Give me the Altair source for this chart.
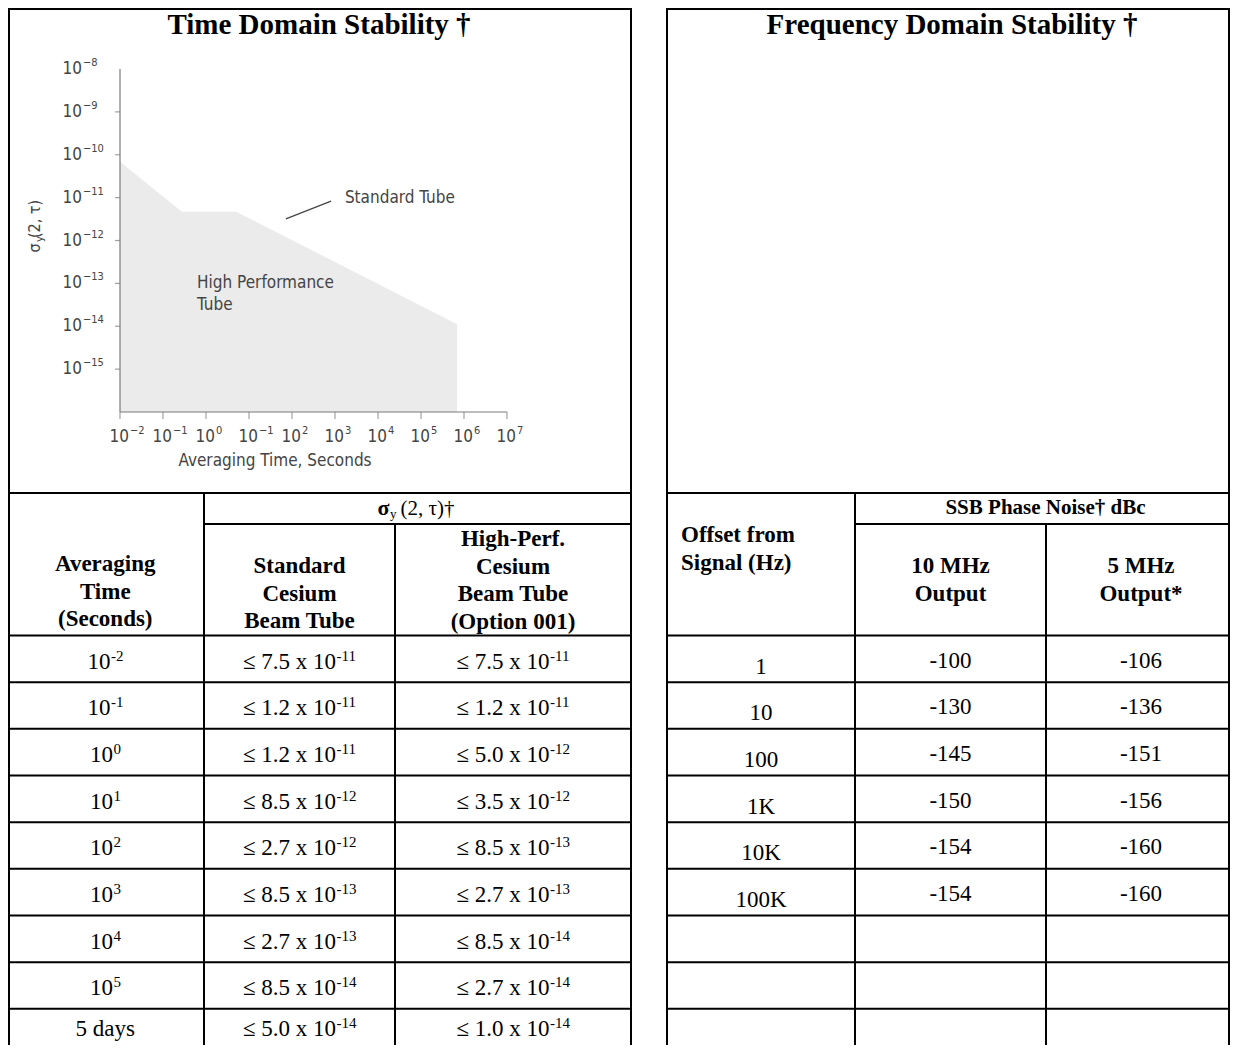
import altair as alt
import pandas as pd

# ------------------------------------------------------------------ values
# time-domain plot
curve_tau = [0.01, 0.275, 5.0, 6.9e5]
curve_sigma = [6.9e-11, 4.7e-12, 4.7e-12, 1.12e-14]
curve_floor = 1e-16
x_ticks = [1e-2, 1e-1, 1e0, 1e1, 1e2, 1e3, 1e4, 1e5, 1e6, 1e7]
x_tick_exp = ["−2", "−1", "0", "−1", "2", "3", "4", "5", "6", "7"]
y_ticks = [1e-8, 1e-9, 1e-10, 1e-11, 1e-12, 1e-13, 1e-14, 1e-15]
y_tick_exp = ["−8", "−9", "−10", "−11", "−12", "−13", "−14", "−15"]
ann_std_tau, ann_std_sigma = 1700, 1.0e-11
leader_tau, leader_sigma = [72, 810], [3.2e-12, 8.3e-12]
ann_hp_tau, ann_hp_sigma = [0.62, 0.62], [1.0e-13, 3.2e-14]
ann_hp_text = ["High Performance", "Tube"]

# time-domain table
avg_time_base = ["10"] * 8 + ["5 days"]
avg_time_exp = ["-2", "-1", "0", "1", "2", "3", "4", "5", ""]
std_mant = ["7.5", "1.2", "1.2", "8.5", "2.7", "8.5", "2.7", "8.5", "5.0"]
std_exp = ["-11", "-11", "-11", "-12", "-12", "-13", "-13", "-14", "-14"]
hp_mant = ["7.5", "1.2", "5.0", "3.5", "8.5", "2.7", "8.5", "2.7", "1.0"]
hp_exp = ["-11", "-11", "-12", "-12", "-13", "-13", "-14", "-14", "-14"]

# frequency-domain table
offset_hz = ["1", "10", "100", "1K", "10K", "100K"]
pn_10mhz = ["-100", "-130", "-145", "-150", "-154", "-154"]
pn_5mhz = ["-106", "-136", "-151", "-156", "-160", "-160"]

titles = ["Time Domain Stability †", "Frequency Domain Stability †"]
hdr_avg = ["Averaging", "Time", "(Seconds)"]
hdr_std = ["Standard", "Cesium", "Beam Tube"]
hdr_hp = ["High-Perf.", "Cesium", "Beam Tube", "(Option 001)"]
hdr_offset = ["Offset from", "Signal (Hz)"]
hdr_10 = ["10 MHz", "Output"]
hdr_5 = ["5 MHz", "Output*"]
hdr_ssb = "SSB Phase Noise† dBc"

# ------------------------------------------------------------------ layout
W, H = 1222, 1037
ORIG = 8
VIS_MIN, VIS_MAX = 9, 1229
TEXT_MAX_BASE = 1039.5          # lowest baseline that still fits in the view
TOP, SEP, SUB, HEAD, ROW_H, BOTTOM = 6, 493, 524, 635.5, 46.67, 1062
LC = [6.5, 204, 395, 631]
RC = [667, 855, 1046, 1236]
N_ROWS = 9

SERIF = "Liberation Serif, Times New Roman, Times, serif"
SANS = "Liberation Sans Narrow, Arial Narrow, DejaVu Sans Condensed, sans-serif"
GREY_TXT = "#444444"
AXIS_C = "#7a7a7a"

PXX = alt.Scale(domain=[ORIG, ORIG + W], range=[0, W], nice=False, zero=False)
PXY = alt.Scale(domain=[ORIG, ORIG + H], range=[0, H], nice=False, zero=False)

# log scales of the inset plot: 1 decade = 43 px (x), 42.875 px (y)
X_DEC, X_REF = 43.0, 120.0      # 1e-2 at x=120
Y_DEC, Y_REF = 42.875, 69.0     # 1e-8 at y=69
xlo = -2 - (X_REF - ORIG) / X_DEC
xhi = -2 + (ORIG + W - X_REF) / X_DEC
yhi = -8 + (Y_REF - ORIG) / Y_DEC
ylo = -8 - (ORIG + H - Y_REF) / Y_DEC
LOGX = alt.Scale(type="log", domain=[10 ** xlo, 10 ** xhi], range=[0, W], nice=False)
LOGY = alt.Scale(type="log", domain=[10 ** ylo, 10 ** yhi], range=[H, 0], nice=False)

TW = {"≤": 0.549, " ": 0.25, ".": 0.25, "x": 0.5, "-": 0.333}


def text_w(s, size):
    return sum(TW.get(c, 0.5) for c in s) * size


def px(chart, x2=False, y2=False):
    enc = dict(x=alt.X("x:Q", scale=PXX, axis=None), y=alt.Y("y:Q", scale=PXY, axis=None))
    if x2:
        enc["x2"] = alt.X2("x2:Q")
    if y2:
        enc["y2"] = alt.Y2("y2:Q")
    return chart.encode(**enc)


def lg(chart, x2=False, y2=False):
    enc = dict(x=alt.X("tau:Q", scale=LOGX, axis=None), y=alt.Y("sigma:Q", scale=LOGY, axis=None))
    if x2:
        enc["x2"] = alt.X2("tau2:Q")
    if y2:
        enc["y2"] = alt.Y2("sigma2:Q")
    return chart.encode(**enc)


layers = []

# ------------------------------------------------------------------ plot
curve = pd.DataFrame({"tau": curve_tau, "sigma": curve_sigma,
                      "sigma2": [curve_floor] * len(curve_tau)})
layers.append(lg(alt.Chart(curve).mark_area(color="#ebebeb", opacity=1), y2=True))

yaxis = pd.DataFrame({"tau": [x_ticks[0]], "sigma": [y_ticks[0]], "sigma2": [curve_floor]})
layers.append(lg(alt.Chart(yaxis).mark_rule(color=AXIS_C, strokeWidth=1.2), y2=True))
xaxis = pd.DataFrame({"tau": [x_ticks[0]], "tau2": [x_ticks[-1]], "sigma": [curve_floor]})
layers.append(lg(alt.Chart(xaxis).mark_rule(color=AXIS_C, strokeWidth=1.2), x2=True))

yt = pd.DataFrame({"tau": [x_ticks[0]] * (len(y_ticks) - 1), "sigma": y_ticks[1:]})
layers.append(lg(alt.Chart(yt).mark_tick(orient="horizontal", size=5, thickness=1.2,
                                          color=AXIS_C, xOffset=-2.5)))
xt = pd.DataFrame({"tau": x_ticks, "sigma": [curve_floor] * len(x_ticks)})
layers.append(lg(alt.Chart(xt).mark_tick(orient="vertical", size=7, thickness=1.2,
                                          color=AXIS_C, yOffset=3.5)))

ylab = pd.DataFrame({"tau": [x_ticks[0]] * len(y_ticks), "sigma": y_ticks,
                     "b": ["10"] * len(y_ticks), "e": y_tick_exp})
layers.append(lg(alt.Chart(ylab).mark_text(font=SANS, fontSize=17, color=GREY_TXT, align="right",
                                            baseline="middle", dx=-38)).encode(text="b:N"))
layers.append(lg(alt.Chart(ylab).mark_text(font=SANS, fontSize=11, color=GREY_TXT, align="left",
                                            baseline="middle", dx=-37, dy=-6)).encode(text="e:N"))
xlab = pd.DataFrame({"tau": x_ticks, "sigma": [curve_floor] * len(x_ticks),
                     "b": ["10"] * len(x_ticks), "e": x_tick_exp})
layers.append(lg(alt.Chart(xlab).mark_text(font=SANS, fontSize=17, color=GREY_TXT, align="right",
                                            baseline="middle", dx=9, dy=25)).encode(text="b:N"))
layers.append(lg(alt.Chart(xlab).mark_text(font=SANS, fontSize=11, color=GREY_TXT, align="left",
                                            baseline="middle", dx=10, dy=19)).encode(text="e:N"))

ann = pd.DataFrame({"tau": [ann_std_tau] + ann_hp_tau, "sigma": [ann_std_sigma] + ann_hp_sigma,
                    "t": ["Standard Tube"] + ann_hp_text})
layers.append(lg(alt.Chart(ann).mark_text(font=SANS, fontSize=17, color=GREY_TXT, align="left",
                                           baseline="middle")).encode(text="t:N"))
lead = pd.DataFrame({"tau": [leader_tau[0]], "tau2": [leader_tau[1]],
                     "sigma": [leader_sigma[0]], "sigma2": [leader_sigma[1]]})
layers.append(lg(alt.Chart(lead).mark_rule(color=GREY_TXT, strokeWidth=1.2), x2=True, y2=True))

# axis titles (layout positions)
xtitle = pd.DataFrame({"x": [275], "y": [461], "t": ["Averaging Time, Seconds"]})
layers.append(px(alt.Chart(xtitle).mark_text(font=SANS, fontSize=17, color=GREY_TXT,
                                              baseline="middle")).encode(text="t:N"))
ytitle = pd.DataFrame({"x": [35, 35], "y": [248, 219], "t": ["σ", "(2, τ)"]})
layers.append(px(alt.Chart(ytitle).mark_text(font=SANS, fontSize=16, color=GREY_TXT, angle=270,
                                              baseline="middle")).encode(text="t:N"))
ysub = pd.DataFrame({"x": [40], "y": [239], "t": ["y"]})
layers.append(px(alt.Chart(ysub).mark_text(font=SANS, fontSize=11, color=GREY_TXT, angle=270,
                                            baseline="middle")).encode(text="t:N"))

# ------------------------------------------------------------------ grid lines
segs = []


def clampx(v):
    return min(max(v, VIS_MIN), VIS_MAX)


def seg(x1, y1, x2, y2):
    segs.append(dict(x=clampx(x1), y=max(y1, VIS_MIN), x2=clampx(x2), y2=max(y2, VIS_MIN)))


for c0, c1, c2, c3 in (LC, RC):
    seg(c0, TOP, c3, TOP)
    seg(c0, TOP, c0, BOTTOM)
    seg(c3, TOP, c3, BOTTOM)
    seg(c0, SEP, c3, SEP)
    seg(c1, SEP, c1, BOTTOM)
    seg(c2, SUB, c2, BOTTOM)
    seg(c1, SUB, c3, SUB)
    for k in range(N_ROWS):
        yy = HEAD + k * ROW_H
        seg(c0, yy, c3, yy)
layers.append(px(alt.Chart(pd.DataFrame(segs)).mark_rule(color="black", strokeWidth=2,
                                                          strokeCap="square"), x2=True, y2=True))

# ------------------------------------------------------------------ texts
DATA_FS, SUP_FS = 23, 15
center_txt, right_txt, sup_txt = [], [], []


def composite(cx, base, exp, yb, ys):
    if not exp:
        center_txt.append(dict(x=cx, y=yb, t=base))
        return
    wb, ws = text_w(base, DATA_FS), text_w(exp, SUP_FS)
    anchor = cx - (wb + ws) / 2 + wb
    right_txt.append(dict(x=anchor, y=yb, t=base))
    sup_txt.append(dict(x=anchor + 0.5, y=ys, t=exp))


lcen = [(LC[i] + LC[i + 1]) / 2 for i in range(3)]
rcen = [(RC[i] + RC[i + 1]) / 2 for i in range(3)]
for i in range(N_ROWS):
    rt = HEAD + i * ROW_H
    yb = min(rt + 33, TEXT_MAX_BASE - 4)
    ys = yb - 8
    composite(lcen[0], avg_time_base[i], avg_time_exp[i], yb, ys)
    composite(lcen[1], "≤ " + std_mant[i] + " x 10", std_exp[i], yb, ys)
    composite(lcen[2], "≤ " + hp_mant[i] + " x 10", hp_exp[i], yb, ys)
for i in range(len(offset_hz)):
    rt = HEAD + i * ROW_H
    center_txt.append(dict(x=rcen[0], y=rt + 38, t=offset_hz[i]))
    center_txt.append(dict(x=rcen[1], y=rt + 32, t=pn_10mhz[i]))
    center_txt.append(dict(x=rcen[2], y=rt + 32, t=pn_5mhz[i]))

layers.append(px(alt.Chart(pd.DataFrame(center_txt)).mark_text(
    font=SERIF, fontSize=DATA_FS, color="black", baseline="alphabetic")).encode(text="t:N"))
layers.append(px(alt.Chart(pd.DataFrame(right_txt)).mark_text(
    font=SERIF, fontSize=DATA_FS, color="black", align="right", baseline="alphabetic")).encode(text="t:N"))
layers.append(px(alt.Chart(pd.DataFrame(sup_txt)).mark_text(
    font=SERIF, fontSize=SUP_FS, color="black", align="left", baseline="alphabetic")).encode(text="t:N"))

# titles
tdf = pd.DataFrame({"x": [319, 952], "y": [25, 25], "t": titles})
layers.append(px(alt.Chart(tdf).mark_text(font=SERIF, fontSize=29, fontWeight="bold", color="black",
                                           baseline="middle")).encode(text="t:N"))

# column headers (bold, centred)
hc = []
LINE = 27.5
for j, s in enumerate(hdr_avg):
    hc.append(dict(x=lcen[0], y=564 + j * LINE, t=s))
for j, s in enumerate(hdr_std):
    hc.append(dict(x=lcen[1], y=566 + j * LINE, t=s))
for j, s in enumerate(hdr_hp):
    hc.append(dict(x=lcen[2], y=539 + j * LINE, t=s))
for j, s in enumerate(hdr_10):
    hc.append(dict(x=rcen[1], y=566 + j * LINE, t=s))
for j, s in enumerate(hdr_5):
    hc.append(dict(x=rcen[2], y=566 + j * LINE, t=s))
layers.append(px(alt.Chart(pd.DataFrame(hc)).mark_text(
    font=SERIF, fontSize=23, fontWeight="bold", color="black", baseline="middle")).encode(text="t:N"))

hl = pd.DataFrame({"x": [681, 681], "y": [535, 562.5], "t": hdr_offset})
layers.append(px(alt.Chart(hl).mark_text(
    font=SERIF, fontSize=23, fontWeight="bold", color="black", align="left",
    baseline="middle")).encode(text="t:N"))

ssb = pd.DataFrame({"x": [(RC[1] + RC[3]) / 2], "y": [508], "t": [hdr_ssb]})
layers.append(px(alt.Chart(ssb).mark_text(
    font=SERIF, fontSize=21, fontWeight="bold", color="black", baseline="middle")).encode(text="t:N"))

# sigma_y(2, tau)† group header
sig_c = (LC[1] + LC[3]) / 2
sg1 = pd.DataFrame({"x": [sig_c - 28], "y": [515], "t": ["σ"]})
layers.append(px(alt.Chart(sg1).mark_text(
    font=SERIF, fontSize=22, fontWeight="bold", color="black", align="right",
    baseline="alphabetic")).encode(text="t:N"))
sg2 = pd.DataFrame({"x": [sig_c - 27.5], "y": [518], "t": ["y"]})
layers.append(px(alt.Chart(sg2).mark_text(
    font=SERIF, fontSize=13, color="black", align="left", baseline="alphabetic")).encode(text="t:N"))
sg3 = pd.DataFrame({"x": [sig_c - 17], "y": [515], "t": ["(2, τ)†"]})
layers.append(px(alt.Chart(sg3).mark_text(
    font=SERIF, fontSize=21, color="black", align="left", baseline="alphabetic")).encode(text="t:N"))

chart = (
    alt.layer(*layers)
    .resolve_scale(x="independent", y="independent")
    .properties(width=W, height=H, padding=0, autosize="none", background="white")
    .configure_view(stroke=None)
)
chart.save("out.html", embed_options={"renderer": "svg", "actions": False})
